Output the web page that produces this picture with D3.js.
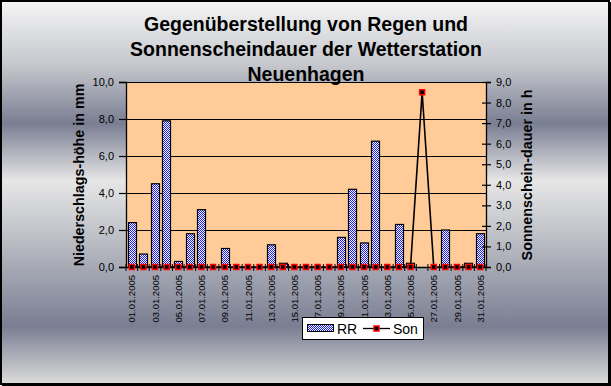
<!DOCTYPE html>
<html>
<head>
<meta charset="utf-8">
<script src="https://cdn.jsdelivr.net/npm/d3@7"></script>
<style>
  body { margin: 0; background: #fff; }
  svg { display: block; font-family: "Liberation Sans", Arial, sans-serif; }
</style>
</head>
<body>
<svg id="chart" width="611" height="386"></svg>
<script>
// daily values, January 2005
var days = ["01.01.2005", "02.01.2005", "03.01.2005", "04.01.2005", "05.01.2005", "06.01.2005",
            "07.01.2005", "08.01.2005", "09.01.2005", "10.01.2005", "11.01.2005", "12.01.2005",
            "13.01.2005", "14.01.2005", "15.01.2005", "16.01.2005", "17.01.2005", "18.01.2005",
            "19.01.2005", "20.01.2005", "21.01.2005", "22.01.2005", "23.01.2005", "24.01.2005",
            "25.01.2005", "26.01.2005", "27.01.2005", "28.01.2005", "29.01.2005", "30.01.2005",
            "31.01.2005"];
var rr  = [2.4, 0.7, 4.5, 7.9, 0.3, 1.8, 3.1, 0, 1.0, 0, 0, 0, 1.2, 0.2, 0, 0,
           0, 0, 1.6, 4.2, 1.3, 6.8, 0, 2.3, 0.2, 0, 0, 2.0, 0, 0.2, 1.8];
var son = [0, 0, 0, 0, 0, 0, 0, 0, 0, 0, 0, 0, 0, 0, 0, 0,
           0, 0, 0, 0, 0, 0, 0, 0, 0, 8.5, 0, 0, 0, 0, 0];
var leftTicks  = [0, 2, 4, 6, 8, 10];
var rightTicks = [0, 1, 2, 3, 4, 5, 6, 7, 8, 9];
var titleLines = ["Gegenüberstellung von Regen und", "Sonnenscheindauer der Wetterstation", "Neuenhagen"];

var W = 611, H = 386;
var plot = {left: 126, right: 486, top: 82, bottom: 267};
var fmt = function(v) { return d3.format(".1f")(v).replace(".", ","); };

var svg = d3.select("#chart");
var defs = svg.append("defs");

var grad = defs.append("linearGradient").attr("id", "bg")
    .attr("x1", 0).attr("y1", 0).attr("x2", 0).attr("y2", 1);
[[0, "#f5f5f5"], [0.17, "#c4c6cc"], [0.32, "#7a7e92"], [0.47, "#e6e6e6"],
 [0.60, "#c2c4ca"], [0.85, "#7a7e92"], [1, "#dcdcdc"]].forEach(function(s) {
  grad.append("stop").attr("offset", s[0]).attr("stop-color", s[1]);
});

var pat = defs.append("pattern").attr("id", "checker")
    .attr("width", 2).attr("height", 2).attr("patternUnits", "userSpaceOnUse");
pat.append("rect").attr("width", 2).attr("height", 2).attr("fill", "#fff");
pat.append("rect").attr("width", 1).attr("height", 1).attr("fill", "#1a1aff");
pat.append("rect").attr("x", 1).attr("y", 1).attr("width", 1).attr("height", 1).attr("fill", "#1a1aff");

// background + frame
svg.append("rect").attr("x", 1).attr("y", 1).attr("width", W - 3).attr("height", H - 3)
   .attr("fill", "url(#bg)").attr("stroke", "#000").attr("stroke-width", 2);
svg.append("line").attr("x1", W - 1).attr("x2", W - 1).attr("y1", 2).attr("y2", H)
   .attr("stroke", "#000").attr("stroke-width", 2);
svg.append("line").attr("x1", 2).attr("x2", W).attr("y1", H - 1).attr("y2", H - 1)
   .attr("stroke", "#000").attr("stroke-width", 2);

// scales
var x = d3.scaleBand().domain(days).range([plot.left, plot.right])
    .paddingInner(0.28).paddingOuter(0.14);
var xc = function(d) { return x(d) + x.bandwidth() / 2; };
var yL = d3.scaleLinear().domain([0, 10]).range([plot.bottom, plot.top]);
var yR = d3.scaleLinear().domain([0, 9]).range([plot.bottom, plot.top]);

// plot area
svg.append("rect").attr("x", plot.left).attr("y", plot.top)
   .attr("width", plot.right - plot.left).attr("height", plot.bottom - plot.top)
   .attr("fill", "#ffcc99");

svg.append("g").selectAll("line").data(leftTicks.filter(function(t) { return t > 0; }))
  .enter().append("line")
   .attr("x1", plot.left).attr("x2", plot.right)
   .attr("y1", function(d) { return Math.round(yL(d)) + 0.5; })
   .attr("y2", function(d) { return Math.round(yL(d)) + 0.5; })
   .attr("stroke", "#000").attr("stroke-width", 1.2);

// RR bars
svg.append("g").selectAll("rect").data(days)
  .enter().filter(function(d, i) { return rr[i] > 0; }).append("rect")
   .attr("x", function(d) { return Math.round(x(d)) + 0.5; })
   .attr("y", function(d) { return yL(rr[days.indexOf(d)]); })
   .attr("width", Math.round(x.bandwidth()))
   .attr("height", function(d) { return plot.bottom - yL(rr[days.indexOf(d)]); })
   .attr("fill", "url(#checker)").attr("stroke", "#000").attr("stroke-width", 1.2);

// axes
var leftAxis = d3.axisLeft(yL).tickValues(leftTicks).tickSize(7).tickPadding(5).tickFormat(fmt);
var gL = svg.append("g").attr("transform", "translate(" + plot.left + ",0)").call(leftAxis);

var rightAxis = d3.axisRight(yR).tickValues(rightTicks).tickSize(5).tickPadding(5).tickFormat(fmt);
var gR = svg.append("g").attr("transform", "translate(" + plot.right + ",0)").call(rightAxis);
gR.selectAll(".tick line").attr("x1", -4);

var bottomAxis = d3.axisBottom(x).tickSize(0).tickPadding(0)
    .tickFormat(function(d, i) { return i % 2 === 0 ? d : ""; });
var gB = svg.append("g").attr("transform", "translate(0," + plot.bottom + ")").call(bottomAxis);
gB.selectAll(".tick text")
   .attr("transform", "rotate(-90)")
   .attr("text-anchor", "end")
   .attr("x", -8).attr("y", 0).attr("dy", "0.38em");
// category separators
gB.append("g").selectAll("line").data(days.concat(["end"]))
  .enter().append("line")
   .attr("x1", function(d, i) { return plot.left + i * x.step(); })
   .attr("x2", function(d, i) { return plot.left + i * x.step(); })
   .attr("y1", -3).attr("y2", 4).attr("stroke", "#000");

[gL, gR, gB].forEach(function(g) {
  g.select(".domain").attr("stroke", "#000").attr("stroke-width", 1.3);
  g.selectAll(".tick line").attr("stroke", "#000").attr("stroke-width", 1.2);
  g.selectAll("text").attr("fill", "#000").style("font-family", "Liberation Sans, Arial, sans-serif");
});
gL.selectAll("text").style("font-size", "11px");
gR.selectAll("text").style("font-size", "11px");
gB.selectAll("text").style("font-size", "9.5px");

// Son line + markers
var line = d3.line().x(function(d, i) { return xc(days[i]); }).y(function(d) { return yR(d); });
svg.append("path").datum(son).attr("d", line)
   .attr("fill", "none").attr("stroke", "#000").attr("stroke-width", 1.6);
svg.append("g").selectAll("rect").data(son)
  .enter().append("rect")
   .attr("x", function(d, i) { return xc(days[i]) - 2.5; })
   .attr("y", function(d) { return yR(d) - 2.5; })
   .attr("width", 5).attr("height", 5)
   .attr("fill", "#000").attr("stroke", "#ff0000").attr("stroke-width", 1.5);

// axis titles
svg.append("text")
   .attr("transform", "translate(83.5,175) rotate(-90)")
   .attr("text-anchor", "middle")
   .style("font-size", "14.3px").style("font-weight", "bold")
   .text("Niederschlags-höhe in mm");
svg.append("text")
   .attr("transform", "translate(531.5,175) rotate(-90)")
   .attr("text-anchor", "middle")
   .style("font-size", "14.3px").style("font-weight", "bold")
   .text("Sonnenschein-dauer in h");

// title
svg.append("g").selectAll("text").data(titleLines)
  .enter().append("text")
   .attr("x", 306).attr("y", function(d, i) { return 31 + i * 25; })
   .attr("text-anchor", "middle")
   .style("font-size", "19.5px").style("font-weight", "bold")
   .text(function(d) { return d; });

// legend
var lg = svg.append("g").attr("transform", "translate(302,317)");
lg.append("rect").attr("x", 0.5).attr("y", 0.5).attr("width", 121).attr("height", 22)
  .attr("fill", "#fff").attr("stroke", "#000");
lg.append("rect").attr("x", 5.5).attr("y", 7.5).attr("width", 26).attr("height", 7)
  .attr("fill", "url(#checker)").attr("stroke", "#000");
lg.append("text").attr("x", 35).attr("y", 16.5).style("font-size", "14px").text("RR");
lg.append("line").attr("x1", 61).attr("x2", 88).attr("y1", 11.5).attr("y2", 11.5)
  .attr("stroke", "#000").attr("stroke-width", 1.3);
lg.append("rect").attr("x", 72).attr("y", 9).attr("width", 5).attr("height", 5)
  .attr("fill", "#000").attr("stroke", "#ff0000").attr("stroke-width", 1.5);
lg.append("text").attr("x", 91).attr("y", 16.5).style("font-size", "14px").text("Son");
</script>
</body>
</html>
